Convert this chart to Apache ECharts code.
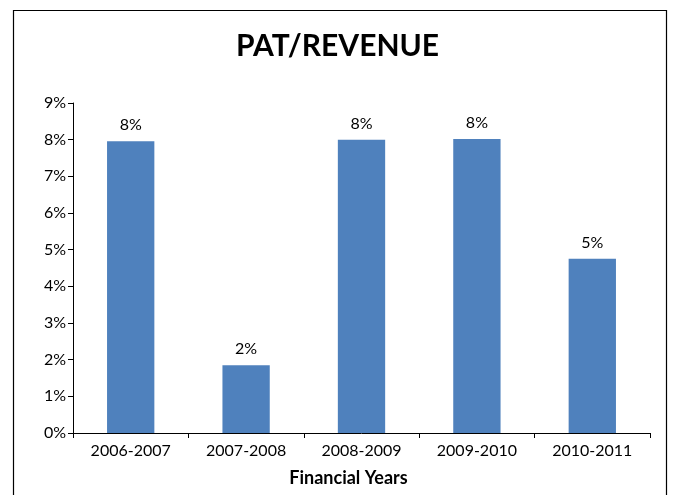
<!DOCTYPE html>
<html>
<head>
<meta charset="utf-8">
<script src="https://cdn.jsdelivr.net/npm/echarts@6/dist/echarts.min.js"></script>
<style>
html,body{margin:0;padding:0;background:#fff}
#main{width:675px;height:495px}
</style>
</head>
<body>
<div id="main"></div>
<script>
var years = ['2006-2007', '2007-2008', '2008-2009', '2009-2010', '2010-2011']
var patRevenue = [7.96, 1.85, 8.0, 8.02, 4.75]
var yTicks = [0, 1, 2, 3, 4, 5, 6, 7, 8, 9]

var chart = echarts.init(document.getElementById('main'))
var font = 'Lato, "Open Sans", sans-serif'

chart.setOption({
	animation: false,
	title: {
		text: 'PAT/REVENUE',
		left: 'center',
		top: 26,
		textStyle: {fontFamily: font, fontWeight: 'bold', fontSize: 30, color: '#000'}
	},
	graphic: [{
		type: 'rect',
		shape: {x: 13.5, y: 10.5, width: 653, height: 500},
		style: {fill: 'none', stroke: '#000', lineWidth: 1.2},
		silent: true
	}],
	grid: {left: 73, right: 25, top: 103, bottom: 62},
	xAxis: {
		type: 'category',
		data: years,
		name: 'Financial Years',
		nameLocation: 'middle',
		nameGap: 36,
		nameTextStyle: {fontFamily: font, fontWeight: 'bold', fontSize: 18, color: '#000', padding: [0, 26, 0, 0]},
		axisLine: {lineStyle: {color: '#000', width: 1}},
		axisTick: {show: true, length: 5, lineStyle: {color: '#000'}},
		axisLabel: {fontFamily: font, fontSize: 16, color: '#000', margin: 10}
	},
	yAxis: {
		type: 'value',
		min: yTicks[0],
		max: yTicks[yTicks.length - 1],
		interval: 1,
		splitLine: {show: false},
		axisLine: {show: true, lineStyle: {color: '#000', width: 1}},
		axisTick: {show: true, length: 5, lineStyle: {color: '#000'}},
		axisLabel: {fontFamily: font, fontSize: 16, color: '#000', margin: 7, formatter: '{value}%'}
	},
	series: [{
		type: 'bar',
		data: patRevenue,
		barWidth: '41%',
		itemStyle: {color: '#4F81BD'},
		label: {
			show: true,
			position: 'top',
			distance: 8,
			fontFamily: font,
			fontSize: 16,
			color: '#000',
			formatter: function(p){ return Math.round(p.value) + '%' }
		}
	}]
})
</script>
</body>
</html>
